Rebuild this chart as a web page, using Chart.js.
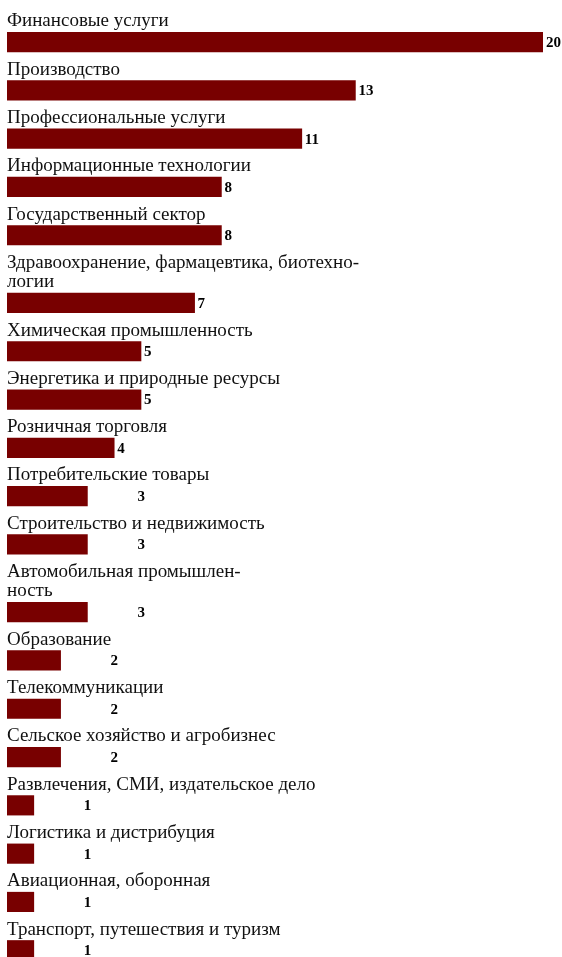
<!DOCTYPE html>
<html lang="ru">
<head>
<meta charset="utf-8">
<title>Отрасли</title>
<script src="https://cdn.jsdelivr.net/npm/chart.js@4/dist/chart.umd.min.js"></script>
<style>
  html, body { margin: 0; padding: 0; background: #fff; }
  #wrap { position: relative; width: 562px; height: 957px; }
</style>
</head>
<body>
<div id="wrap"><canvas id="industryChart"></canvas></div>
<script>
// названия отраслей (перенос строк как в подписи)
const industries = [
    ["Финансовые услуги"],
    ["Производство"],
    ["Профессиональные услуги"],
    ["Информационные технологии"],
    ["Государственный сектор"],
    ["Здравоохранение, фармацевтика, биотехно-", "логии"],
    ["Химическая промышленность"],
    ["Энергетика и природные ресурсы"],
    ["Розничная торговля"],
    ["Потребительские товары"],
    ["Строительство и недвижимость"],
    ["Автомобильная промышлен-", "ность"],
    ["Образование"],
    ["Телекоммуникации"],
    ["Сельское хозяйство и агробизнес"],
    ["Развлечения, СМИ, издательское дело"],
    ["Логистика и дистрибуция"],
    ["Авиационная, оборонная"],
    ["Транспорт, путешествия и туризм"]
];
const counts = [20, 13, 11, 8, 8, 7, 5, 5, 4, 3, 3, 3, 2, 2, 2, 1, 1, 1, 1];

const FONT = '"Liberation Serif", "Times New Roman", serif';
const BAR_COLOR = '#780000';
const LINE_H = 19.4;     // высота строки подписи
const BAR_H = 19.5;      // толщина полосы
const ROW_GAP = 9.4;     // отступ после полосы
const TOP = 12.9;
const CANVAS_H = 957;

// вертикальная раскладка: подпись над полосой, затем полоса
function rowCenters() {
    const centers = [];
    let top = TOP;
    industries.forEach(function (lines) {
        const barTop = top + LINE_H * lines.length;
        centers.push(barTop + BAR_H / 2);
        top = barTop + BAR_H + ROW_GAP;
    });
    return centers;
}

const centers = rowCenters();
const points = counts.map(function (v, i) { return { x: v, y: centers[i] }; });

const labelPlugin = {
    id: 'rowLabels',
    afterDatasetsDraw(chart) {
        const ctx = chart.ctx;
        const meta = chart.getDatasetMeta(0);
        const xScale = chart.scales.x;
        ctx.save();
        meta.data.forEach(function (bar, i) {
            const lines = industries[i];
            const barTop = bar.y - BAR_H / 2;

            // название отрасли над полосой
            ctx.font = '19px ' + FONT;
            ctx.fillStyle = '#111';
            ctx.textAlign = 'left';
            ctx.textBaseline = 'alphabetic';
            lines.forEach(function (line, j) {
                const baseline = barTop - 6 - LINE_H * (lines.length - 1 - j);
                ctx.fillText(line, xScale.getPixelForValue(0), baseline);
            });

            // значение справа от полосы
            const gap = counts[i] <= 3 ? 50 : 3;
            ctx.font = 'bold 15px ' + FONT;
            ctx.fillStyle = '#000';
            ctx.textBaseline = 'middle';
            ctx.fillText(String(counts[i]), bar.x + gap, bar.y + 1);
        });
        ctx.restore();
    }
};

const ctx = document.getElementById('industryChart').getContext('2d');
const chart = new Chart(ctx, {
    type: 'bar',
    data: {
        datasets: [{
            data: points,
            backgroundColor: BAR_COLOR,
            borderWidth: 0,
            barThickness: BAR_H
        }]
    },
    options: {
        indexAxis: 'y',
        responsive: true,
        maintainAspectRatio: false,
        animation: false,
        layout: { padding: { left: 7, right: 19, top: 0, bottom: 0 } },
        scales: {
            x: { type: 'linear', min: 0, max: 20, display: false },
            y: { type: 'linear', min: 0, max: CANVAS_H, reverse: true, offset: false, display: false }
        },
        plugins: {
            legend: { display: false },
            tooltip: { enabled: false }
        }
    },
    plugins: [labelPlugin]
});
</script>
</body>
</html>
